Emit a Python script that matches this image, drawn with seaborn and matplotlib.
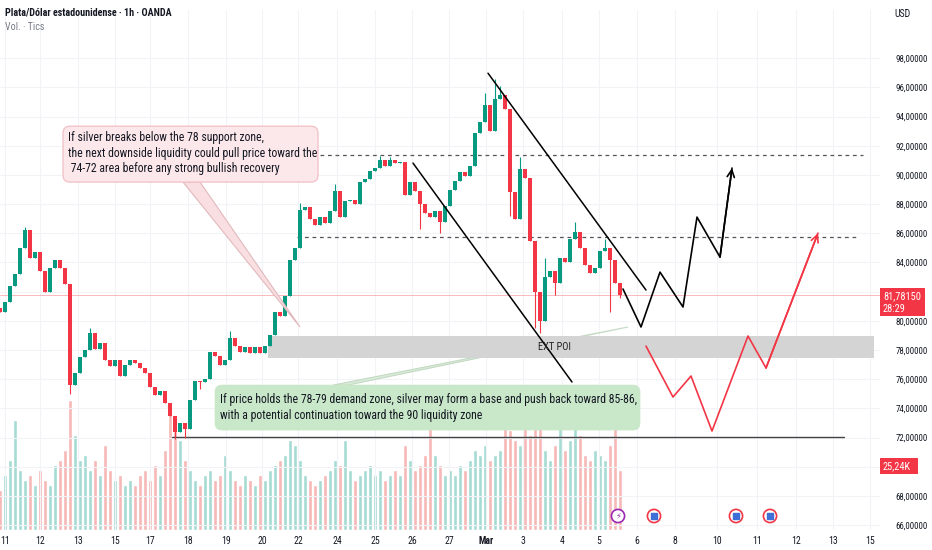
import matplotlib
matplotlib.use("Agg")
import matplotlib.pyplot as plt
from matplotlib import font_manager
from matplotlib.patches import FancyBboxPatch, Polygon, Rectangle
import seaborn as sns
import numpy as np
import pandas as pd

# hourly silver candles, resampled by eye (one value every ~5 px of the screenshot)
closes = [80.6, 81.3, 82.4, 83.2, 85.0, 86.2, 84.3, 84.7, 83.4, 82.0,
          83.6, 84.2, 83.6, 82.5, 75.6, 76.4, 77.5, 78.0, 79.2, 78.1,
          78.5, 77.3, 76.9, 77.3, 76.2, 77.0, 77.3, 77.1, 76.8, 76.4,
          75.5, 74.9, 75.2, 74.4, 73.5, 72.4, 73.0, 72.6, 74.6, 75.9,
          75.8, 76.0, 77.9, 77.6, 77.0, 77.3, 78.8, 78.3, 77.9, 78.2,
          77.8, 78.2, 77.8, 78.3, 79.0, 80.6, 80.3, 81.7, 84.2, 85.0,
          87.6, 87.8, 87.0, 86.6, 87.1, 86.7, 87.5, 88.9, 87.1, 88.2,
          88.3, 88.0, 89.5, 89.7, 90.3, 90.5, 91.0, 90.6, 91.0, 90.8,
          90.9, 88.6, 89.5, 88.9, 88.0, 87.4, 87.1, 87.5, 86.8, 87.9,
          89.0, 89.6, 90.2, 89.9, 90.6, 92.9, 93.6, 94.8, 93.0, 95.2,
          95.5, 94.5, 88.8, 87.0, 90.4, 89.8, 85.5, 82.0, 80.0, 83.0,
          83.4, 82.6, 84.3, 84.0, 85.6, 86.1, 85.0, 83.8, 83.3, 83.6,
          84.8, 85.0, 84.2, 82.6, 81.8]
first_open = 80.9
# visible wick extremes (candle index -> price)
wick_high = {5: 86.4, 18: 79.5, 46: 79.3, 60: 88.1, 67: 89.4, 76: 91.3, 78: 91.2,
             97: 95.6, 99: 96.6, 100: 96.1, 104: 91.2, 109: 84.3, 115: 86.8, 121: 85.6}
wick_low = {14: 75.0, 35: 71.9, 37: 72.0, 40: 75.3, 84: 86.3, 88: 86.0, 102: 87.2,
            107: 79.5, 108: 79.2, 111: 81.8, 122: 80.6, 124: 81.6}
volumes = [40, 55, 70, 110, 60, 50, 55, 45, 60, 50,
           45, 65, 70, 80, 130, 95, 70, 75, 60, 70,
           55, 85, 60, 50, 55, 45, 50, 45, 55, 60,
           50, 65, 55, 80, 115, 105, 90, 70, 60, 50,
           45, 55, 60, 50, 55, 75, 60, 50, 45, 55,
           50, 45, 55, 50, 60, 65, 70, 75, 90, 85,
           70, 55, 50, 45, 50, 55, 60, 70, 65, 90,
           60, 50, 55, 60, 65, 55, 60, 50, 55, 60,
           55, 85, 70, 60, 65, 75, 110, 75, 65, 55,
           60, 55, 65, 60, 70, 80, 75, 85, 70, 75,
           80, 125, 100, 90, 85, 110, 95, 105, 115, 80,
           70, 85, 110, 80, 90, 115, 95, 75, 70, 80,
           75, 70, 85, 105, 60]

date_pos = [1, 8, 15.6, 23, 30, 37.6, 45.2, 52.4, 59.6, 67.4, 75, 82.4, 89.8,
            97.2, 104.6, 112.4, 119.8, 127.4, 135, 143.4, 151.4, 159.2, 166.6, 174]
date_labels = ["11", "12", "13", "15", "17", "18", "19", "20", "22", "24", "25", "26",
               "27", "Mar", "3", "4", "5", "6", "8", "10", "11", "12", "13", "15"]

# drawings on the chart
zone_lo, zone_hi = 77.45, 78.96
upper_liq, mid_liq, low_liq = 91.36, 85.74, 72.04
chan_a_x, chan_a_y = [97.6, 129.2], [96.97, 82.11]
chan_b_x, chan_b_y = [82.6, 114.4], [90.81, 75.81]
bull_x = [124.6, 128.2, 132.0, 136.6, 139.4, 144.0, 146.4]
bull_y = [82.18, 79.58, 83.34, 80.95, 87.11, 84.37, 90.47]
bear_x = [129.2, 134.6, 138.2, 142.4, 149.6, 153.2, 163.6]
bear_y = [78.27, 74.78, 76.22, 72.45, 78.96, 76.77, 86.01]
last_price = 81.7815

note_bear = ("If silver breaks below the 78 support zone,\n"
             "the next downside liquidity could pull price toward the\n"
             " 74-72 area before any strong bullish recovery")
note_bull = ("If price holds the 78-79 demand zone, silver may form a base and push back toward 85-86,\n"
             "with a potential continuation toward the 90 liquidity zone")

UP, DOWN = "#089981", "#f23645"

sns.set_style("white")
# narrow face if one is around, else Liberation Sans
installed = {f.name for f in font_manager.fontManager.ttflist}
narrow = [n for n in ["Roboto Condensed", "DejaVu Sans Condensed", "Liberation Sans Narrow",
                      "Open Sans Condensed"] if n in installed]
plt.rcParams["font.family"] = narrow + ["Liberation Sans", "DejaVu Sans"]

opens = [first_open] + closes[:-1]
df = pd.DataFrame({"idx": np.arange(len(closes)), "open": opens, "close": closes,
                   "vol": volumes})
df["dir"] = np.where(df["close"] >= df["open"], "up", "down")
df["high"] = df[["open", "close"]].max(axis=1)
df["low"] = df[["open", "close"]].min(axis=1)
for i, v in wick_high.items():
    df.loc[i, "high"] = v
for i, v in wick_low.items():
    df.loc[i, "low"] = v

W, H = 932, 550
fig = plt.figure(figsize=(W / 100, H / 100), dpi=100)
ax = fig.add_axes([0, 1 - 530 / H, 880 / W, 520 / H])
axv = ax.twinx()
ax.set_zorder(2)
ax.patch.set_visible(False)
axv.set_zorder(1)

# volume pane
sns.barplot(data=df, x="idx", y="vol", hue="dir", palette={"up": "#a6dbd3", "down": "#f7b8b8"},
            native_scale=True, dodge=False, width=0.9, saturation=1, errorbar=None,
            legend=False, ax=axv)
axv.set_ylim(0, 520)
axv.set_yticks([])
axv.set_ylabel("")
for s in axv.spines.values():
    s.set_visible(False)

# zone, levels
ax.add_patch(Rectangle((53.6, zone_lo), 174.8 - 53.6, zone_hi - zone_lo,
                       color="#d4d4d4", zorder=2, lw=0))
ax.text(111, (zone_lo + zone_hi) / 2, "EXT POI", fontsize=7.5, ha="center", va="center",
        color="#222222", zorder=6)
ax.plot([58, 172.6], [upper_liq] * 2, ls=(0, (3, 3)), color="#555555", lw=0.9, zorder=3)
ax.plot([59.4, 171.6], [mid_liq] * 2, ls=(0, (3, 3)), color="#555555", lw=0.9, zorder=3)
ax.plot([34.4, 168.8], [low_liq] * 2, color="#444444", lw=1.0, zorder=3)
ax.axhline(last_price, color="#f23645", alpha=0.35, lw=0.7, zorder=1)

# green pointer below zone
ax.add_patch(Polygon([[66.6, 75.6], [69.6, 75.6], [125.6, 79.58]], closed=True,
                     facecolor="#d9ecd9", edgecolor="#c4d9c4", lw=0.8, zorder=1.5))

# candles
ccol = [UP if d == "up" else DOWN for d in df["dir"]]
ax.vlines(df["idx"], df["low"], df["high"], colors=ccol, lw=0.8, zorder=4)
body_lo = df[["open", "close"]].min(axis=1)
body_h = (df["close"] - df["open"]).abs().clip(lower=0.1)
ax.bar(df["idx"], body_h, bottom=body_lo, width=0.72, color=ccol, zorder=4, lw=0)

# channel lines and projections
sns.lineplot(x=chan_a_x, y=chan_a_y, color="black", lw=1.1, ax=ax, zorder=5)
sns.lineplot(x=chan_b_x, y=chan_b_y, color="black", lw=1.1, ax=ax, zorder=5)
sns.lineplot(x=bull_x, y=bull_y, sort=False, estimator=None, color="black", lw=1.2, ax=ax, zorder=5)
sns.lineplot(x=bear_x, y=bear_y, sort=False, estimator=None, color="#f23645", lw=1.2, ax=ax, zorder=5)
for px, py, c in [(bull_x, bull_y, "black"), (bear_x, bear_y, "#f23645")]:
    ax.annotate("", xy=(px[-1], py[-1]), xytext=(px[-2], py[-2]),
                arrowprops=dict(arrowstyle="->", color=c, lw=1.2, mutation_scale=13,
                                shrinkA=0, shrinkB=0), zorder=5)

# callouts
asp = (880 / 176) / (520 / 35.63)
ax.add_patch(Polygon([[36.6, 89.51], [40.0, 89.51], [60.0, 79.58]], closed=True,
                     facecolor="#f9dfe1", edgecolor="#e2b9bd", lw=0.8, zorder=6))
ax.add_patch(FancyBboxPatch((12.6, 89.51), 51, 3.83, boxstyle="round,pad=0,rounding_size=1.4",
                            mutation_aspect=asp, facecolor="#fce8ea", edgecolor="#f0c0c5",
                            lw=0.9, zorder=7))
t_bear = ax.text(13.6, 91.49, note_bear, fontsize=8, va="center", ha="left", color="#131722",
                 linespacing=1.25, zorder=8)
ax.add_patch(FancyBboxPatch((43, 72.52), 85, 3.08, boxstyle="round,pad=0,rounding_size=1.4",
                            mutation_aspect=asp, facecolor="#c9e7c9", edgecolor="#c9e7c9",
                            lw=0.5, zorder=7))
t_bull = ax.text(44, 74.06, note_bull, fontsize=8.5, va="center", ha="left", color="#131722",
                 linespacing=1.25, zorder=8)

# event icons
ev_x = [123.6, 130.8, 147.2, 154.0]
ev_c = ["#9c27b0", "#f23645", "#f23645", "#f23645"]
ax.scatter(ev_x, [66.63] * 4, s=90, facecolor="white", edgecolor=ev_c, lw=1.2, zorder=9)
ax.scatter(ev_x[1:], [66.63] * 3, s=22, marker="s", color="#3d6fd6", zorder=10)
ax.text(ev_x[0], 66.63, "⚡", fontsize=6, color="#9c27b0", ha="center", va="center",
        family="DejaVu Sans", zorder=10)

# axes
ax.set_xlim(0, 176)
ax.set_ylim(65.67, 101.3)
yt = list(range(66, 100, 2))
ax.set_yticks(yt)
ax.set_yticklabels(["" if v in (70, 82) else f"{v},00000" for v in yt])
ax.yaxis.tick_right()
ax.tick_params(axis="y", length=0, pad=11, labelsize=7.5, labelcolor="#131722")
ax.set_xticks(date_pos)
ax.set_xticklabels(date_labels)
ax.tick_params(axis="x", length=0, pad=4, labelsize=7, labelcolor="#131722")
for lab in ax.get_xticklabels():
    if lab.get_text() == "Mar":
        lab.set_fontweight("bold")
ax.grid(True, color="#f2f3f6", lw=0.8)
ax.set_axisbelow(True)
for s in ax.spines.values():
    s.set_visible(False)

# header and price scale labels
fig.text(5 / W, 1 - 13 / H, "Plata/Dólar estadounidense · 1h · OANDA", fontsize=7.2,
         fontweight="bold", color="#131722", va="center")
fig.text(5 / W, 1 - 27 / H, "Vol. · Tics", fontsize=7.2, color="#787b86", va="center")
fig.text(894 / W, 1 - 14 / H, "USD", fontsize=7, color="#131722", va="center")
fig.patches.append(Rectangle((880 / W, 1 - 316 / H), 45 / W, 28 / H, transform=fig.transFigure,
                             facecolor="#f23645", lw=0))
fig.text(883 / W, 1 - 296 / H, "81,78150", fontsize=7.5, color="white", va="center")
fig.text(883 / W, 1 - 309 / H, "28:29", fontsize=7.5, color="white", va="center")
fig.patches.append(Rectangle((880 / W, 1 - 474 / H), 38 / W, 16 / H, transform=fig.transFigure,
                             facecolor="#f23645", lw=0))
fig.text(883 / W, 1 - 466 / H, "25,24K", fontsize=7.5, color="white", va="center")

# fit the note text widths to the boxes of the screenshot
renderer = fig.canvas.get_renderer()
for t, target in [(t_bear, 247), (t_bull, 412)]:
    for _ in range(2):
        w = t.get_window_extent(renderer).width
        t.set_fontsize(t.get_fontsize() * target / w)

# keep the price-scale labels inside the canvas
for lab in ax.get_yticklabels() + fig.texts:
    bb = lab.get_window_extent(renderer)
    if bb.x1 > W - 4:
        lab.set_fontsize(lab.get_fontsize() * (W - 4 - bb.x0) / bb.width)

fig.savefig("out.png", dpi=100)
